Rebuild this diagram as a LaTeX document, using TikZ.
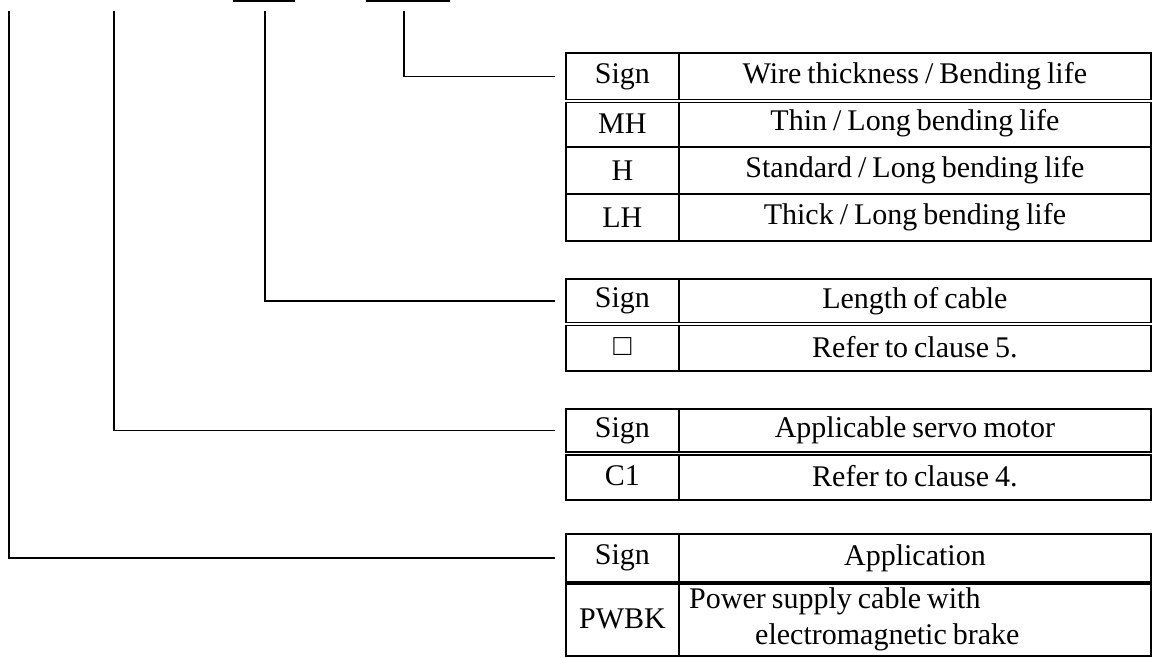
\documentclass[tikz,border=0pt]{standalone}
\usepackage{fontspec}
\setmainfont{Liberation Serif}[WordSpace=0.8]
\newcommand{\tabfont}{\fontsize{30}{36}\selectfont}
\tikzset{
  cell/.style={draw, line width=1.8pt, anchor=north west, inner sep=0pt, font=\tabfont},
  signcell/.style={cell, minimum width=113pt},
  desccell/.style={cell, minimum width=472pt},
  leader/.style={line width=1.5pt},
  dblrule/.style={line width=1.6pt, double, double distance=1.4pt},
}
\begin{document}
\begin{tikzpicture}[x=1pt,y=-1pt]
\useasboundingbox (0,0) rectangle (1153,657);
% code underlines
\draw[line width=2pt] (233,1) -- (295,1);
\draw[line width=2pt] (366,1) -- (450,1);
\coordinate (c1) at (9,11);
\coordinate (c2) at (114,11);
\coordinate (c3) at (265,11);
\coordinate (c4) at (404,11);

% wire thickness / bending life
\node[signcell, minimum height=47pt] (wh) at (565,52) {Sign};
\node[desccell, minimum height=47pt] (wd) at (678,52) {Wire thickness / Bending life};
\node[signcell, minimum height=47pt] (w1) at (565,99) {MH};
\node[desccell, minimum height=47pt] (w1d) at (678,99) {Thin / Long bending life};
\node[signcell, minimum height=47pt] (w2) at (565,146) {H};
\node[desccell, minimum height=47pt] (w2d) at (678,146) {Standard / Long bending life};
\node[signcell, minimum height=47pt] (w3) at (565,193) {LH};
\node[desccell, minimum height=47pt] (w3d) at (678,193) {Thick / Long bending life};
\draw[dblrule] (wh.south west) -- (wd.south east);

% length of cable
\node[signcell, minimum height=44pt] (lh) at (565,278) {Sign};
\node[desccell, minimum height=44pt] (ld) at (678,278) {Length of cable};
\node[signcell, minimum height=48pt] (l1) at (565,322) {□};
\node[desccell, minimum height=48pt] (l1d) at (678,322) {Refer to clause 5.};
\draw[dblrule] (lh.south west) -- (ld.south east);

% applicable servo motor
\node[signcell, minimum height=43.5pt] (sh) at (565,408) {Sign};
\node[desccell, minimum height=43.5pt] (sd) at (678,408) {Applicable servo motor};
\node[signcell, minimum height=47.5pt] (s1) at (565,451.5) {C1};
\node[desccell, minimum height=47.5pt] (s1d) at (678,451.5) {Refer to clause 4.};
\draw[dblrule] (sh.south west) -- (sd.south east);

% application
\node[signcell, minimum height=48pt] (ah) at (565,533) {Sign};
\node[desccell, minimum height=48pt] (ad) at (678,533) {Application};
\node[signcell, minimum height=74pt] (a1) at (565,581) {PWBK};
\node[desccell, minimum height=74pt] (a1d) at (678,581) {};
\node[font=\tabfont, align=left, anchor=west, inner sep=0pt] (a1t) at ([xshift=11pt]a1d.west)
  {Power supply cable with\\\hspace*{66pt}electromagnetic brake};
\draw[line width=3.5pt] (ah.south west) -- (ad.south east);

% leaders
\draw[leader] (c4) |- ([xshift=-10pt]wh.west);
\draw[leader] (c3) |- ([xshift=-10pt]lh.west);
\draw[leader] (c2) |- ([xshift=-10pt]sh.west);
\draw[leader] (c1) |- ([xshift=-10pt]ah.west);
\end{tikzpicture}
\end{document}
